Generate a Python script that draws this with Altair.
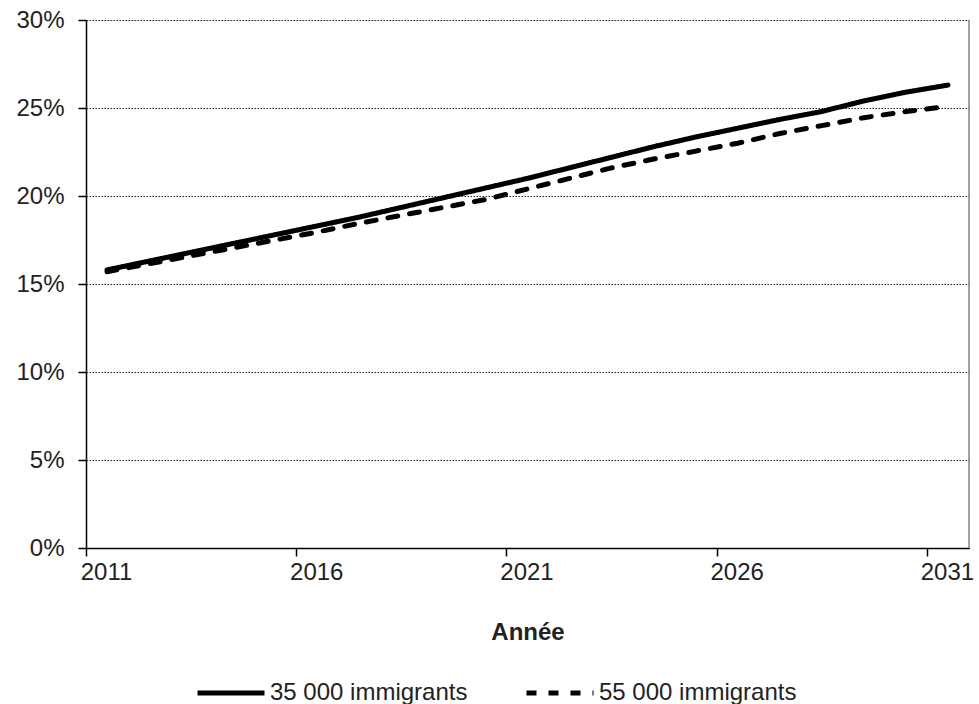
import altair as alt
import pandas as pd

years = list(range(2011, 2032))
s35 = [15.8, 16.3, 16.8, 17.3, 17.8, 18.3, 18.8, 19.35, 19.9, 20.45, 21.0,
       21.6, 22.2, 22.8, 23.35, 23.85, 24.35, 24.8, 25.4, 25.9, 26.3]
s55 = [15.7, 16.15, 16.6, 17.05, 17.5, 17.95, 18.45, 18.9, 19.35, 19.8, 20.4,
       21.0, 21.6, 22.1, 22.55, 23.0, 23.55, 24.0, 24.45, 24.8, 25.1]
series = ["35 000 immigrants", "55 000 immigrants"]
tick_years = [2011, 2016, 2021, 2026, 2031]
y_ticks = [0, 0.05, 0.10, 0.15, 0.20, 0.25, 0.30]

rows = []
for name, vals in zip(series, [s35, s55]):
    for yr, v in zip(years, vals):
        rows.append({"annee": yr, "serie": name, "valeur": v / 100})
df = pd.DataFrame(rows)

FONT = "Liberation Sans"

legend_cfg = dict(orient="none", legendX=109, legendY=637,
                  direction="horizontal", title=None,
                  symbolType="stroke", symbolSize=4489,
                  symbolStrokeWidth=5, labelFontSize=24,
                  labelFont=FONT, labelColor="#222", labelLimit=400,
                  labelOffset=3, columnPadding=48)

base = alt.Chart(df).transform_calculate(t="datum.annee + 0.5")

lines = base.mark_line(strokeWidth=5, strokeCap="round", strokeJoin="round").encode(
    x=alt.X("t:Q", scale=alt.Scale(domain=[2011, 2032], nice=False, zero=False),
            axis=alt.Axis(values=tick_years, format="d", title="Année",
                          labelOffset=20, labelFlush=False, grid=False,
                          tickSize=8, tickWidth=1.5,
                          tickColor="#000", domainColor="#000", domainWidth=1.5,
                          labelFontSize=24, labelFont=FONT, labelColor="#222",
                          labelPadding=4, titleFont=FONT, titleFontSize=24,
                          titleFontWeight="bold", titleColor="#222",
                          titlePadding=36)),
    y=alt.Y("valeur:Q", scale=alt.Scale(domain=[0, 0.30], nice=False),
            axis=alt.Axis(values=y_ticks, format=".0%", title=None,
                          grid=True, gridDash=[1.5, 1.5], gridColor="#222",
                          gridWidth=1, tickSize=8, tickWidth=1.5, tickColor="#000",
                          domainColor="#000", domainWidth=1.5,
                          labelFontSize=24, labelFont=FONT, labelColor="#222",
                          labelPadding=14)),
    color=alt.Color("serie:N", scale=alt.Scale(domain=series, range=["#000", "#000"]),
                    legend=alt.Legend(**legend_cfg)),
    strokeDash=alt.StrokeDash("serie:N", scale=alt.Scale(domain=series, range=[[1, 0], [10, 12]]),
                              legend=alt.Legend(**legend_cfg)),
)

border = alt.Chart(pd.DataFrame({"x": [2032]})).mark_rule(color="#888", strokeWidth=1.5).encode(
    x=alt.X("x:Q")
)

chart = alt.layer(lines, border).properties(
    width=883, height=528,
    autosize=alt.AutoSizeParams(type="none"),
    padding={"left": 86, "top": 20, "right": 10, "bottom": 156},
).configure_view(stroke=None).configure(font=FONT)

chart.save("out.html", embed_options={"renderer": "svg", "actions": False})
